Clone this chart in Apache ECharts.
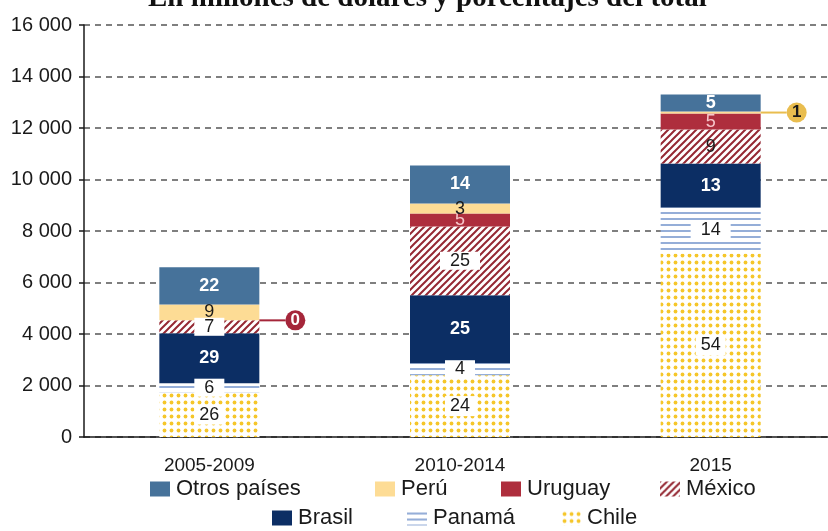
<!DOCTYPE html>
<html>
<head>
<meta charset="utf-8">
<script src="https://cdn.jsdelivr.net/npm/echarts@6.0.0/dist/echarts.min.js"></script>
<style>
  html, body { margin: 0; padding: 0; background: #fff; }
  #chart { width: 828px; height: 531px; }
</style>
</head>
<body>
<div id="chart"></div>
<script>
// periodos
const categories = ['2005-2009', '2010-2014', '2015']

// millones de dólares por país (apilado de abajo hacia arriba)
const chile = [1740, 2400, 7130]
const panama = [350, 465, 1780]
const brasil = [1940, 2640, 1710]
const mexico = [500, 2670, 1320]
const uruguay = [0, 500, 620]
const peru = [620, 390, 80]
const otros = [1440, 1480, 660]

// porcentajes del total (etiquetas)
const pctChile = [26, 24, 54]
const pctPanama = [6, 4, 14]
const pctBrasil = [29, 25, 13]
const pctMexico = [7, 25, 9]
const pctUruguay = [0, 5, 5]
const pctPeru = [9, 3, 1]
const pctOtros = [22, 14, 5]

const yMax = 16000
const yStep = 2000

const FONT = 'Liberation Sans, Arial, sans-serif'

// patrones de relleno
function makePattern (w, h, draw) {
  const c = document.createElement('canvas')
  c.width = w
  c.height = h
  const ctx = c.getContext('2d')
  ctx.fillStyle = '#ffffff'
  ctx.fillRect(0, 0, w, h)
  draw(ctx)
  return { image: c, repeat: 'repeat' }
}

const dotsChile = makePattern(7, 7, ctx => {
  ctx.fillStyle = '#f5c62a'
  ctx.beginPath()
  ctx.arc(3.5, 3.5, 1.9, 0, Math.PI * 2)
  ctx.fill()
})

const linesPanama = makePattern(6, 6, ctx => {
  ctx.fillStyle = '#95aed8'
  ctx.fillRect(0, 2, 6, 2)
})

const hatchMexico = makePattern(7, 7, ctx => {
  ctx.strokeStyle = '#952833'
  ctx.lineWidth = 2
  ctx.beginPath()
  ctx.moveTo(-1, 8); ctx.lineTo(8, -1)
  ctx.moveTo(-4.5, 4.5); ctx.lineTo(4.5, -4.5)
  ctx.moveTo(2.5, 11.5); ctx.lineTo(11.5, 2.5)
  ctx.stroke()
})

// etiquetas con globo a la derecha (valores muy pequeños)
function callout (text, circleColor, textColor) {
  return {
    show: true,
    position: 'right',
    distance: 0,
    formatter: '{l|}{c|' + text + '}',
    rich: {
      l: { width: 26, height: 2, backgroundColor: circleColor, verticalAlign: 'middle' },
      c: {
        width: 20,
        height: 20,
        lineHeight: 20,
        borderRadius: 10,
        backgroundColor: circleColor,
        color: textColor,
        fontWeight: 'bold',
        fontSize: 17,
        fontFamily: FONT,
        align: 'center',
        verticalAlign: 'middle'
      }
    }
  }
}

function buildSeries (name, values, pcts, color, label, overrides) {
  return {
    name: name,
    type: 'bar',
    stack: 'total',
    barWidth: 100,
    itemStyle: { color: color },
    label: Object.assign({
      show: true,
      position: 'inside',
      fontSize: 18,
      fontFamily: FONT,
      formatter: p => String(pcts[p.dataIndex])
    }, label),
    data: values.map((v, i) => {
      if (overrides && overrides[i]) {
        return { value: v, label: overrides[i] }
      }
      return v
    })
  }
}

const series = [
  buildSeries('Chile', chile, pctChile, dotsChile,
    { color: '#1a1a1a', backgroundColor: '#ffffff', padding: [1, 5] }),
  buildSeries('Panamá', panama, pctPanama, linesPanama,
    { color: '#1a1a1a', backgroundColor: '#ffffff', padding: [0, 10] }),
  buildSeries('Brasil', brasil, pctBrasil, '#0c2e64',
    { color: '#ffffff', fontWeight: 'bold' }),
  buildSeries('México', mexico, pctMexico, hatchMexico,
    { color: '#1a1a1a', backgroundColor: '#ffffff', padding: [0, 10] },
    { 2: { backgroundColor: 'transparent' } }),
  buildSeries('Uruguay', uruguay, pctUruguay, '#ae2e3d',
    { color: '#f6c5c9' },
    { 0: callout('0', '#a5263a', '#ffffff') }),
  buildSeries('Perú', peru, pctPeru, '#fddc95',
    { color: '#1a1a1a' },
    { 2: callout('1', '#e9bd4f', '#1a1a1a') }),
  buildSeries('Otros países', otros, pctOtros, '#46729a',
    { color: '#ffffff', fontWeight: 'bold' })
]

// leyenda en dos filas, una entrada por componente
const legendPos = [
  ['Otros países', 150, 478],
  ['Perú', 375, 478],
  ['Uruguay', 501, 478],
  ['México', 660, 478],
  ['Brasil', 272, 507],
  ['Panamá', 407, 507],
  ['Chile', 561, 507]
]
const legends = legendPos.map(item => ({
  data: [item[0]],
  left: item[1],
  top: item[2],
  padding: 0,
  itemWidth: 20,
  itemHeight: 15,
  itemGap: 0,
  icon: 'rect',
  selectedMode: false,
  textStyle: { fontSize: 22, fontFamily: FONT, color: '#1a1a1a', padding: [0, 0, 0, 1] }
}))

const chart = echarts.init(document.getElementById('chart'))
chart.setOption({
  animation: false,
  backgroundColor: '#ffffff',
  title: {
    text: 'En millones de dólares y porcentajes del total',
    left: 148,
    top: -16,
    padding: 0,
    textStyle: {
      fontFamily: 'Liberation Serif, Times New Roman, serif',
      fontWeight: 'bold',
      fontSize: 29,
      color: '#111'
    }
  },
  legend: legends,
  grid: {
    left: 84,
    right: -8,
    top: 25,
    bottom: 94,
    outerBoundsMode: 'none'
  },
  xAxis: {
    type: 'category',
    data: categories,
    axisLine: { lineStyle: { color: '#1a1a1a', width: 1.5 } },
    axisTick: { show: false },
    axisLabel: {
      fontSize: 19,
      fontFamily: FONT,
      color: '#1a1a1a',
      margin: 19
    }
  },
  yAxis: {
    type: 'value',
    min: 0,
    max: yMax,
    interval: yStep,
    axisLine: { show: true, lineStyle: { color: '#1a1a1a', width: 1.5 } },
    axisTick: { show: true, length: 5, lineStyle: { color: '#1a1a1a', width: 1.5 } },
    axisLabel: {
      fontSize: 20,
      fontFamily: FONT,
      color: '#1a1a1a',
      margin: 12,
      formatter: v => String(v).replace(/\B(?=(\d{3})+(?!\d))/g, ' ')
    },
    splitLine: {
      show: true,
      lineStyle: { color: '#555555', width: 1.5, type: [6, 5] }
    }
  },
  series: series
})
</script>
</body>
</html>
